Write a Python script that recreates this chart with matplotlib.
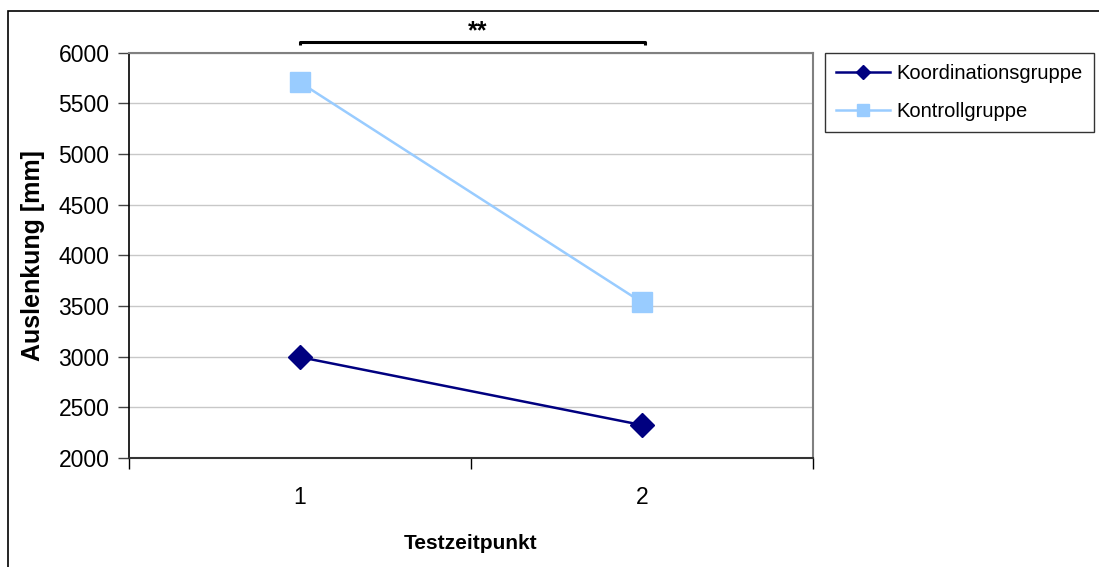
import matplotlib
matplotlib.use("Agg")
import matplotlib.pyplot as plt
from matplotlib.patches import Rectangle

plt.rcParams['font.family'] = ['Liberation Sans', 'DejaVu Sans']

categories = ["1", "2"]
koordination = [2995, 2325]
kontroll = [5705, 3535]
series_names = ["Koordinationsgruppe", "Kontrollgruppe"]
y_ticks = [2000, 2500, 3000, 3500, 4000, 4500, 5000, 5500, 6000]

W, H = 1099, 567
fig = plt.figure(figsize=(W / 100, H / 100), dpi=100)
ax = fig.add_axes([129 / W, 1 - 458 / H, (813 - 129) / W, (458 - 52.5) / H])

x = [1, 2]
ax.plot(x, koordination, color='#000080', lw=1.8, marker='D', ms=12.5,
        markeredgecolor='#000080', markerfacecolor='#000080', label=series_names[0], zorder=4)
ax.plot(x, kontroll, color='#99CCFF', lw=1.8, marker='s', ms=15,
        markeredgecolor='#99CCFF', markerfacecolor='#99CCFF', label=series_names[1], zorder=4)

ax.set_xlim(0.5, 2.5)
ax.set_ylim(2000, 6000)
ax.set_yticks(y_ticks)
ax.set_yticklabels([str(v) for v in y_ticks], fontsize=16.5)
ax.set_xticks([0.5, 1.5, 2.5])
ax.set_xticklabels([])
ax.set_xticks([1, 2], minor=True)
ax.set_xticklabels(categories, minor=True, fontsize=16.5)
ax.tick_params(axis='x', which='major', direction='out', length=8, width=1, color='black')
ax.tick_params(axis='x', which='minor', length=0, pad=20)
ax.tick_params(axis='y', direction='out', length=8, width=1, color='#444444', pad=6)

ax.grid(axis='y', color='#C8C8C8', lw=1)
ax.set_axisbelow(True)
for s in ['top', 'right']:
    ax.spines[s].set_color('#808080')
    ax.spines[s].set_linewidth(1.5)
ax.spines['left'].set_color('black')
ax.spines['left'].set_linewidth(1.2)
ax.spines['bottom'].set_color('#333333')
ax.spines['bottom'].set_linewidth(1.5)

ax.set_ylabel("Auslenkung [mm]", fontsize=18, fontweight='bold', labelpad=10)
ax.set_xlabel("Testzeitpunkt", fontsize=15, fontweight='bold', labelpad=18)

# significance bracket
ax.plot([1, 1, 2.01, 2.01], [6075, 6100, 6100, 6075], color='black', lw=2.2,
        clip_on=False, solid_capstyle='butt')
ax.text(1.52, 6095, "**", ha='center', va='bottom', fontsize=18, fontweight='bold')

leg = fig.legend(loc='upper left', bbox_to_anchor=(825 / W, 1 - 53 / H), fontsize=14.5,
                 frameon=True, fancybox=False, edgecolor='black', borderpad=0.55,
                 handlelength=2.7, handletextpad=0.3, labelspacing=0.95,
                 markerscale=0.55, borderaxespad=0)
leg.get_frame().set_linewidth(1)

# outer chart border
fig.patches.append(Rectangle((8 / W, -0.1), 1.2, 1 - 11 / H + 0.1, transform=fig.transFigure,
                             fill=False, edgecolor='black', lw=1.2))

fig.savefig("out.png", dpi=100)
